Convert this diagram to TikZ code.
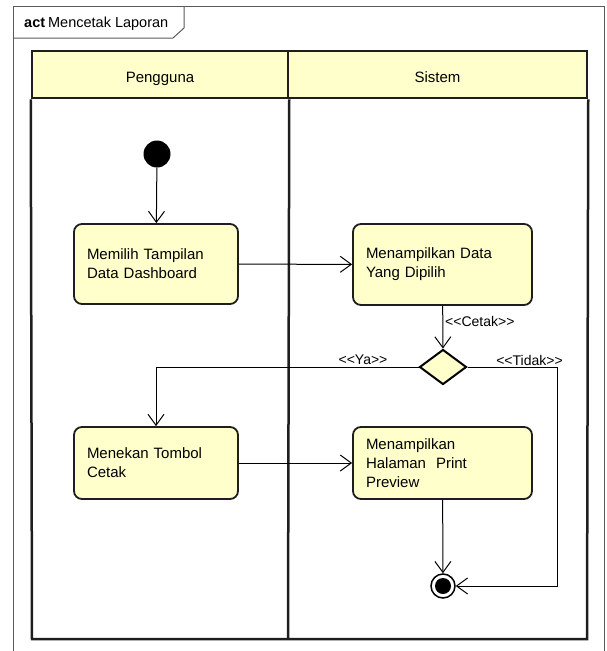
\documentclass[tikz,border=0pt]{standalone}
\usepackage{fontspec}
\setmainfont{Liberation Sans}
\usepackage{tikz}
\usetikzlibrary{shapes.geometric,arrows.meta}
\definecolor{umlYellow}{RGB}{255,255,204}
\definecolor{umlBorder}{RGB}{30,30,30}
\definecolor{frameGray}{RGB}{90,90,90}

\begin{document}
\begin{tikzpicture}[x=1pt, y=-1pt, font=\fontsize{15}{19}\selectfont,
		>={Straight Barb[length=11pt,width=16pt]}]
		\useasboundingbox (0,0) rectangle (606,651);
		% frame with name tab
		\draw [frameGray, line width=1pt] (13,651) -- (13,6) -- (604,6) -- (604,651);
		\draw [frameGray, line width=1pt] (13,38) -- (173,38) -- (184,28) -- (184,6);
		\node (title) at (24,24) [anchor=west, inner sep=0pt, font=\fontsize{14.5}{17}\selectfont] {\textbf{act}\hspace{3pt}Mencetak Laporan};
		
		% swimlanes
		\begin{scope}[every node/.style={draw=umlBorder, line width=2.5pt, fill=umlYellow, minimum height=47pt, inner sep=0pt, text height=16pt, text depth=0pt}]
			\node (laneA) at (160,74.5) [minimum width=256pt] {Pengguna};
			\node (laneB) at (437.5,74.5) [minimum width=299pt] {Sistem};
		\end{scope}
		\draw [umlBorder, line width=2.5pt] (laneA.south west) -- (32,639) -- (587,639) -- (laneB.south east);
		\draw [umlBorder, line width=2.5pt] (laneA.south east) -- (288,639);
		
		% start, end and decision
		\node (start) at (157,154) [circle, fill=black, minimum size=27pt, inner sep=0pt] {};
		\node (end) at (443,586) [circle, draw=black, line width=1.5pt, fill=white, minimum size=24pt, inner sep=0pt] {};
		\fill [black] (end.center) circle (8);
		\node (dec) at (443,367) [diamond, draw=black, line width=2pt, fill=umlYellow, minimum width=47pt, minimum height=35pt, inner sep=0pt] {};
		
		% actions
		\begin{scope}[every node/.style={rectangle, rounded corners=8pt, draw=umlBorder, line width=1.8pt, fill=umlYellow, align=left, inner xsep=13pt, inner ysep=0pt}]
			\node (n1) at (156,264) [minimum width=164pt, minimum height=80pt, text width=138pt] {Memilih Tampilan\\Data Dashboard};
			\node (n2) at (442.5,264.5) [minimum width=179pt, minimum height=81pt, text width=153pt] {Menampilkan Data\\Yang Dipilih};
			\node (n3) at (156,463) [minimum width=164pt, minimum height=72pt, text width=138pt] {Menekan Tombol\\Cetak};
			\node (n4) at (442.5,463) [minimum width=179pt, minimum height=72pt, text width=153pt] {Menampilkan\\Halaman\ \ Print\\Preview};
		\end{scope}
		
		\coordinate (tk) at (557,367);
		\begin{scope}[every edge/.style={draw=black, line width=1pt}]
			\path [->] (start) edge (n1);
			\path [->] (n1) edge (n2);
			\path [->] (n2) edge (dec);
			\path [->] (n3) edge (n4);
			\path [->] (n4) edge (end);
		\end{scope}
		\draw [->, line width=1pt] (dec.west) -| (n3.north);
		\draw [->, line width=1pt] (dec.east) -- (tk) |- (end.east);
		
		% guards
		\begin{scope}[every node/.style={inner sep=0pt, font=\fontsize{14}{16}\selectfont}]
			\node (gCetak) at (445,321) [anchor=west] {<{}<Cetak>{}>};
			\node (gYa) at (363,360) {<{}<Ya>{}>};
			\node (gTidak) at (529.5,360) {<{}<Tidak>{}>};
		\end{scope}
	\end{tikzpicture}
\end{document}
